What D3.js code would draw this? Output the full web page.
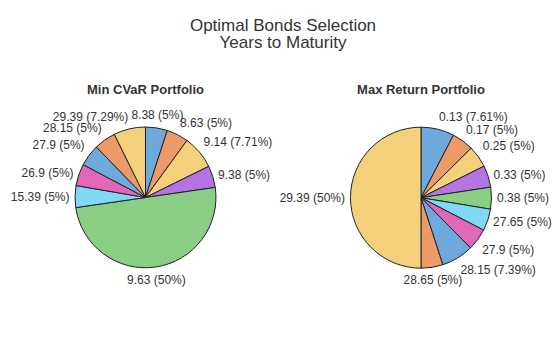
<!DOCTYPE html>
<html>
<head>
<meta charset="utf-8">
<script src="https://cdn.jsdelivr.net/npm/d3@7"></script>
<style>
  html, body { margin: 0; padding: 0; background: #fff; }
  svg { display: block; font-family: Arial, "Liberation Sans", sans-serif; }
</style>
</head>
<body>
<svg id="chart" width="560" height="337"></svg>
<script>
// ---- data ----
const titleLines = ["Optimal Bonds Selection", "Years to Maturity"];
const minCvarTitle = "Min CVaR Portfolio";
const minCvarYears = ["8.38", "8.63", "9.14", "9.38", "9.63", "15.39", "26.9", "27.9", "28.15", "29.39"];
const minCvarWeights = [5, 5, 7.71, 5, 50, 5, 5, 5, 5, 7.29];
const maxRetTitle = "Max Return Portfolio";
const maxRetYears = ["0.13", "0.17", "0.25", "0.33", "0.38", "27.65", "27.9", "28.15", "28.65", "29.39"];
const maxRetWeights = [7.61, 5, 5, 5, 5, 5, 5, 7.39, 5, 50];
const palette = ["#6fa8dc", "#ec9a68", "#f4d07c", "#b474e4", "#8acd85", "#80d8f5", "#e168b9"];

// ---- drawing ----
const svg = d3.select("#chart");
const W = 560, H = 337;

svg.append("text")
  .attr("x", 283).attr("y", 31)
  .attr("text-anchor", "middle")
  .attr("font-size", 17).attr("fill", "#333")
  .selectAll("tspan").data(titleLines).join("tspan")
  .attr("x", 283).attr("dy", (d, i) => i === 0 ? 0 : 17.3)
  .text(d => d);

const radius = 70.5;
const labelR = 76;
const color = d3.scaleOrdinal().range(palette);

function drawPie(cx, cy, title, years, weights) {
  const g = svg.append("g").attr("transform", `translate(${cx},${cy})`);
  const data = years.map((y, i) => ({ year: y, w: weights[i], i }));
  const pie = d3.pie().value(d => d.w).sort(null);
  const arcs = pie(data);
  const arc = d3.arc().innerRadius(0).outerRadius(radius);

  g.selectAll("path.slice").data(arcs).join("path")
    .attr("class", "slice")
    .attr("d", arc)
    .attr("fill", d => palette[d.data.i % palette.length])
    .attr("stroke", "#222")
    .attr("stroke-width", 1)
    .attr("stroke-linejoin", "round");

  g.append("text")
    .attr("x", 0).attr("y", -radius - 33)
    .attr("text-anchor", "middle")
    .attr("font-size", 13).attr("font-weight", "bold").attr("fill", "#333")
    .text(title);

  const fmt = v => (Math.round(v * 100) / 100).toString();
  g.selectAll("text.lbl").data(arcs).join("text")
    .attr("class", "lbl")
    .attr("font-size", 12).attr("fill", "#333")
    .each(function(d) {
      const a = (d.startAngle + d.endAngle) / 2;
      const s = Math.sin(a), c = Math.cos(a);
      const x = labelR * s, y = -labelR * c;
      const anchor = Math.abs(s) < 0.19 ? "middle" : (s > 0 ? "start" : "end");
      let dy;
      if (Math.abs(c) < 0.45) dy = 4.2;          // vertically centered
      else if (c > 0) dy = -3;                   // bottom edge at anchor (upper half)
      else dy = 11.4;                            // top edge at anchor (lower half)
      d3.select(this)
        .attr("x", x).attr("y", y + dy)
        .attr("text-anchor", anchor)
        .text(`${d.data.year} (${fmt(d.data.w)}%)`);
    });
}

drawPie(145.5, 197.5, minCvarTitle, minCvarYears, minCvarWeights);
drawPie(421, 197.7, maxRetTitle, maxRetYears, maxRetWeights);
</script>
</body>
</html>
